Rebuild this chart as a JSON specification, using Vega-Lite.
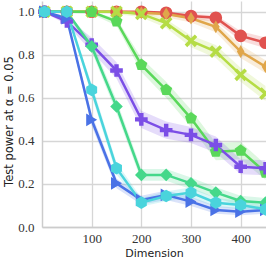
{
  "$schema": "https://vega.github.io/schema/vega-lite/v6.json",
  "width": 224,
  "height": 226,
  "autosize": "none",
  "padding": {"left": 42, "top": 1, "right": 0, "bottom": 36},
  "background": "white",
  "data": {"values": [
    {"m":"A","d":5,"p":1,"lo":0.995,"hi":1},
    {"m":"A","d":50,"p":1,"lo":0.995,"hi":1},
    {"m":"A","d":100,"p":1,"lo":0.995,"hi":1},
    {"m":"A","d":150,"p":1,"lo":0.995,"hi":1},
    {"m":"A","d":200,"p":1,"lo":0.99,"hi":1},
    {"m":"A","d":250,"p":0.995,"lo":0.985,"hi":1},
    {"m":"A","d":300,"p":0.98,"lo":0.965,"hi":0.99},
    {"m":"A","d":350,"p":0.972,"lo":0.955,"hi":0.985},
    {"m":"A","d":400,"p":0.888,"lo":0.865,"hi":0.91},
    {"m":"A","d":450,"p":0.856,"lo":0.83,"hi":0.88},
    {"m":"B","d":5,"p":1,"lo":0.995,"hi":1},
    {"m":"B","d":50,"p":1,"lo":0.995,"hi":1},
    {"m":"B","d":100,"p":1,"lo":0.995,"hi":1},
    {"m":"B","d":150,"p":1,"lo":0.995,"hi":1},
    {"m":"B","d":200,"p":0.995,"lo":0.985,"hi":1},
    {"m":"B","d":250,"p":0.99,"lo":0.975,"hi":1},
    {"m":"B","d":300,"p":0.97,"lo":0.95,"hi":0.985},
    {"m":"B","d":350,"p":0.93,"lo":0.905,"hi":0.95},
    {"m":"B","d":400,"p":0.815,"lo":0.785,"hi":0.845},
    {"m":"B","d":450,"p":0.745,"lo":0.715,"hi":0.775},
    {"m":"C","d":5,"p":1,"lo":0.995,"hi":1},
    {"m":"C","d":50,"p":1,"lo":0.995,"hi":1},
    {"m":"C","d":100,"p":1,"lo":0.995,"hi":1},
    {"m":"C","d":150,"p":1,"lo":0.99,"hi":1},
    {"m":"C","d":200,"p":0.99,"lo":0.975,"hi":1},
    {"m":"C","d":250,"p":0.947,"lo":0.925,"hi":0.965},
    {"m":"C","d":300,"p":0.865,"lo":0.835,"hi":0.89},
    {"m":"C","d":350,"p":0.815,"lo":0.785,"hi":0.845},
    {"m":"C","d":400,"p":0.707,"lo":0.675,"hi":0.74},
    {"m":"C","d":450,"p":0.62,"lo":0.585,"hi":0.655},
    {"m":"D","d":5,"p":1,"lo":0.995,"hi":1},
    {"m":"D","d":50,"p":1,"lo":0.995,"hi":1},
    {"m":"D","d":100,"p":1,"lo":0.99,"hi":1},
    {"m":"D","d":150,"p":0.955,"lo":0.935,"hi":0.97},
    {"m":"D","d":200,"p":0.753,"lo":0.72,"hi":0.785},
    {"m":"D","d":250,"p":0.637,"lo":0.6,"hi":0.675},
    {"m":"D","d":300,"p":0.505,"lo":0.465,"hi":0.545},
    {"m":"D","d":350,"p":0.35,"lo":0.31,"hi":0.39},
    {"m":"D","d":400,"p":0.355,"lo":0.315,"hi":0.395},
    {"m":"D","d":450,"p":0.253,"lo":0.22,"hi":0.29},
    {"m":"E","d":5,"p":1,"lo":0.995,"hi":1},
    {"m":"E","d":50,"p":0.955,"lo":0.94,"hi":0.97},
    {"m":"E","d":100,"p":0.847,"lo":0.815,"hi":0.88},
    {"m":"E","d":150,"p":0.727,"lo":0.69,"hi":0.765},
    {"m":"E","d":200,"p":0.5,"lo":0.46,"hi":0.54},
    {"m":"E","d":250,"p":0.45,"lo":0.41,"hi":0.49},
    {"m":"E","d":300,"p":0.428,"lo":0.39,"hi":0.465},
    {"m":"E","d":350,"p":0.381,"lo":0.345,"hi":0.42},
    {"m":"E","d":400,"p":0.28,"lo":0.245,"hi":0.315},
    {"m":"E","d":450,"p":0.273,"lo":0.24,"hi":0.31},
    {"m":"F","d":5,"p":1,"lo":0.995,"hi":1},
    {"m":"F","d":50,"p":1,"lo":0.995,"hi":1},
    {"m":"F","d":100,"p":0.839,"lo":0.815,"hi":0.865},
    {"m":"F","d":150,"p":0.56,"lo":0.53,"hi":0.59},
    {"m":"F","d":200,"p":0.242,"lo":0.215,"hi":0.27},
    {"m":"F","d":250,"p":0.242,"lo":0.215,"hi":0.27},
    {"m":"F","d":300,"p":0.203,"lo":0.175,"hi":0.23},
    {"m":"F","d":350,"p":0.16,"lo":0.135,"hi":0.185},
    {"m":"F","d":400,"p":0.121,"lo":0.1,"hi":0.145},
    {"m":"F","d":450,"p":0.113,"lo":0.09,"hi":0.135},
    {"m":"G","d":5,"p":1,"lo":0.995,"hi":1},
    {"m":"G","d":50,"p":0.97,"lo":0.955,"hi":0.98},
    {"m":"G","d":100,"p":0.498,"lo":0.47,"hi":0.525},
    {"m":"G","d":150,"p":0.203,"lo":0.18,"hi":0.225},
    {"m":"G","d":200,"p":0.126,"lo":0.105,"hi":0.145},
    {"m":"G","d":250,"p":0.149,"lo":0.125,"hi":0.17},
    {"m":"G","d":300,"p":0.118,"lo":0.098,"hi":0.14},
    {"m":"G","d":350,"p":0.079,"lo":0.062,"hi":0.097},
    {"m":"G","d":400,"p":0.071,"lo":0.055,"hi":0.088},
    {"m":"G","d":450,"p":0.079,"lo":0.062,"hi":0.097},
    {"m":"H","d":5,"p":1,"lo":0.995,"hi":1},
    {"m":"H","d":50,"p":1,"lo":0.995,"hi":1},
    {"m":"H","d":100,"p":0.637,"lo":0.61,"hi":0.665},
    {"m":"H","d":150,"p":0.273,"lo":0.245,"hi":0.3},
    {"m":"H","d":200,"p":0.113,"lo":0.095,"hi":0.135},
    {"m":"H","d":250,"p":0.144,"lo":0.12,"hi":0.165},
    {"m":"H","d":300,"p":0.16,"lo":0.135,"hi":0.185},
    {"m":"H","d":350,"p":0.113,"lo":0.093,"hi":0.135},
    {"m":"H","d":400,"p":0.102,"lo":0.083,"hi":0.122},
    {"m":"H","d":450,"p":0.082,"lo":0.065,"hi":0.1}
  ]},
  "encoding": {
    "x": {"field": "d", "type": "quantitative",
      "scale": {"domain": [0, 451], "nice": false, "zero": false},
      "axis": {"values": [100, 200, 300, 400], "title": "Dimension", "labelPadding": 5, "titlePadding": 2}},
    "color": {"field": "m", "type": "nominal",
      "scale": {"domain": ["A","B","C","D","E","F","G","H"],
        "range": ["#e0524f","#e0a64a","#b5dc45","#5ad85a","#7b4ee6","#45d88a","#4a72e6","#4ad4dc"]},
      "legend": null}
  },
  "layer": [
    {
      "mark": {"type": "area", "opacity": 0.2},
      "encoding": {
        "y": {"field": "lo", "type": "quantitative"},
        "y2": {"field": "hi"}
      }
    },
    {
      "mark": {"type": "line", "strokeWidth": 2.5},
      "encoding": {
        "y": {"field": "p", "type": "quantitative",
          "scale": {"domain": [0, 1.05], "nice": false, "zero": false},
          "axis": {"values": [0, 0.2, 0.4, 0.6, 0.8, 1.0], "format": ".1f", "title": "Test power at α = 0.05", "labelPadding": 8, "titlePadding": 3, "titleFontSize": 11.5, "titleY": 120}}
      }
    },
    {
      "mark": {"type": "point", "filled": true, "opacity": 1, "size": 160},
      "encoding": {
        "y": {"field": "p", "type": "quantitative"},
        "shape": {"field": "m", "type": "nominal",
          "scale": {"domain": ["A","B","C","D","E","F","G","H"],
            "range": [
              "circle",
              "M0,-1L0.6,0L0,1L-0.6,0Z",
              "M-1,-0.6L-0.6,-1L0,-0.4L0.6,-1L1,-0.6L0.4,0L1,0.6L0.6,1L0,0.4L-0.6,1L-1,0.6L-0.4,0Z",
              "M0,-1L0.951,-0.309L0.588,0.809L-0.588,0.809L-0.951,-0.309Z",
              "M-0.35,-1L0.35,-1L0.35,-0.35L1,-0.35L1,0.35L0.35,0.35L0.35,1L-0.35,1L-0.35,0.35L-1,0.35L-1,-0.35L-0.35,-0.35Z",
              "diamond",
              "triangle-right",
              "M0,-1L0.866,-0.5L0.866,0.5L0,1L-0.866,0.5L-0.866,-0.5Z"
            ]},
          "legend": null}
      }
    }
  ],
  "config": {
    "view": {"stroke": null},
    "axis": {
      "grid": true,
      "gridColor": "#d6d6d6",
      "gridWidth": 1.3,
      "domain": true,
      "domainColor": "#cccccc",
      "domainWidth": 1.5,
      "ticks": false,
      "labelFont": "Liberation Serif",
      "labelFontSize": 13,
      "labelColor": "#333333",
      "titleFont": "DejaVu Sans",
      "titleFontSize": 11,
      "titleFontWeight": "normal",
      "titleColor": "#222222"
    }
  }
}
